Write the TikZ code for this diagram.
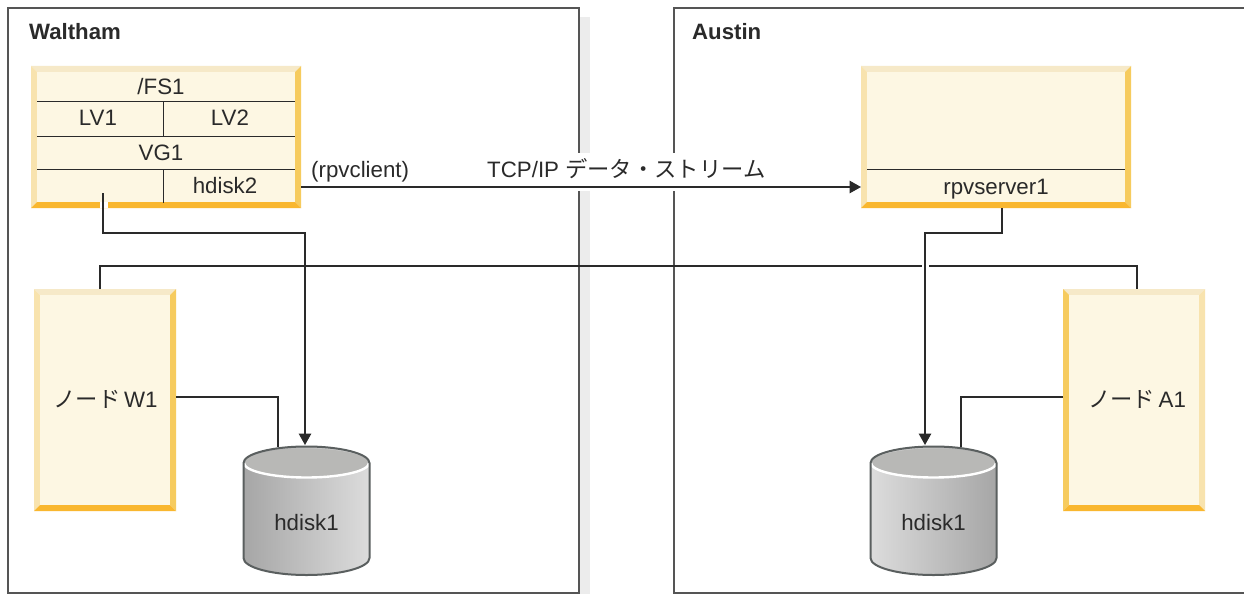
\documentclass[tikz,border=0pt]{standalone}
\usepackage{fontspec}
\setmainfont{Liberation Sans}
\newfontfamily\jpfont{Noto Sans CJK JP}[Scale=1.0]
\usetikzlibrary{arrows.meta}
\definecolor{inner}{HTML}{FDF7E3}
\definecolor{bevT}{HTML}{F6E9C8}
\definecolor{bevL}{HTML}{F8E3AE}
\definecolor{bevR}{HTML}{F6CB5E}
\definecolor{bevB}{HTML}{F9B72F}
\definecolor{ink}{HTML}{2A2A2A}
\definecolor{frameink}{HTML}{555555}
\definecolor{shadowgrey}{HTML}{ECECEC}
\definecolor{diskedge}{HTML}{5A5F5F}
\definecolor{disktop}{HTML}{B8B8B6}
\definecolor{diskdark}{HTML}{A6A6A6}
\definecolor{disklight}{HTML}{DCDCDC}
\tikzset{
  x=1pt,y=-1pt,
  txt/.style={font=\fontsize{22.3}{25}\selectfont,text=ink,inner sep=0pt,anchor=base},
  head/.style={font=\fontsize{22.2}{25}\selectfont\bfseries,text=ink,inner sep=0pt,anchor=base west},
  frm/.style={draw=frameink,line width=1.2pt},
  wire/.style={draw=ink,line width=1.5pt},
  thin wire/.style={draw=ink,line width=1pt},
  arrowed/.style={wire,-{Triangle[length=11.5pt,width=12.5pt]}},
  halo/.style={draw=white,line width=7pt},
}
% \bevelbox{name}{x1}{y1}{x2}{y2}{left colour}{right colour}
\newcommand{\bevelbox}[7]{
  \fill[bevT] (#2,#3) -- (#4,#3) -- (#4-6,#3+6) -- (#2+6,#3+6) -- cycle;
  \fill[#6] (#2,#3) -- (#2+6,#3+6) -- (#2+6,#5-6) -- (#2,#5) -- cycle;
  \fill[#7] (#4,#3) -- (#4-6,#3+6) -- (#4-6,#5-6) -- (#4,#5) -- cycle;
  \fill[bevB] (#2,#5) -- (#2+6,#5-6) -- (#4-6,#5-6) -- (#4,#5) -- cycle;
  \fill[inner] (#2+6,#3+6) rectangle (#4-6,#5-6);
  \coordinate (#1) at ({(#2+#4)/2},{(#3+#5)/2});
}
% \disk{name}{cx}{left colour}{right colour}
\newcommand{\disk}[4]{
  \path[left color=#3,right color=#4]
    (#2-63,463) -- (#2-63,558) arc[start angle=180,end angle=0,x radius=63,y radius=17]
    -- (#2+63,463) arc[start angle=0,end angle=-180,x radius=63,y radius=16.5] -- cycle;
  \fill[disktop] (#2,463) ellipse[x radius=62.5,y radius=14.5];
  \draw[white,line width=2.4pt] (#2-62.5,463) arc[start angle=180,end angle=0,x radius=62.5,y radius=14.5];
  \draw[diskedge,line width=2pt]
    (#2-63,463) -- (#2-63,558) arc[start angle=180,end angle=0,x radius=63,y radius=17]
    -- (#2+63,463) arc[start angle=0,end angle=-180,x radius=63,y radius=16.5] -- cycle;
  \node[txt] (#1) at (#2,530.5) {hdisk1};
}
\begin{document}
\begin{tikzpicture}
\useasboundingbox (0,0) rectangle (1244,594);
\fill[white] (0,0) rectangle (1244,594);
% frames
\fill[shadowgrey] (580,17) rectangle (590,594);
\draw[frm] (8,8) rectangle (579,593);
\draw[frm] (1244,8) -- (674,8) -- (674,593) -- (1244,593);
\node[head] (walt) at (29,39.5) {Waltham};
\node[head] (aust) at (692,39.5) {Austin};

% node boxes
\bevelbox{fs}{31}{66}{301}{208}{bevL}{bevR}
\bevelbox{srv}{861}{66}{1131}{208}{bevL}{bevR}
\bevelbox{w1}{34}{289}{176}{511}{bevL}{bevR}
\bevelbox{a1}{1063}{289}{1205}{511}{bevR}{bevL}

% inner rules of the two system boxes
\draw[thin wire] (37,101) -- (295,101) (37,136) -- (295,136) (37,169) -- (295,169)
  (163,101) -- (163,136) (163,169) -- (163,203);
\draw[thin wire] (867,169) -- (1125,169);
\node[txt] (fs1) at (161,94) {/FS1};
\node[txt] (lv1) at (98,125) {LV1};
\node[txt] (lv2) at (230,125) {LV2};
\node[txt] (vg1) at (161,160) {VG1};
\node[txt] (hd2) at (225,193.5) {hdisk2};
\node[txt] (rpvs) at (996,194) {rpvserver1};
\node[txt] (nw1) at (105.5,407) {{\jpfont ノード}\,W1};
\node[txt] (na1) at (1137,407) {{\jpfont ノード}\,A1};

% disks
\disk{dw}{306.5}{diskdark}{disklight}
\disk{da}{933.5}{disklight}{diskdark}

% long top line
\coordinate (lineL) at (100,266);
\coordinate (lineR) at (1137,266);
\draw[wire] (100,289) -- (lineL) -- (lineR) -- (1137,289);
\draw[halo] (925,260) -- (925,272);

% disk links
\draw[wire] (176,397) -- (278,397) -- (278,447);
\draw[wire] (1063,397) -- (961,397) -- (961,447);

% FS to disk
\fill[white] (100,202) rectangle (108,208);
\coordinate (fsout) at (103,193);
\draw[arrowed] (fsout) -- (103,233) -- (305,233) -- (305,445);
\draw[arrowed] (1002,208) -- (1002,233) -- (925,233) -- (925,445);

% data stream
\fill[white] (560,153) rectangle (700,183);
\fill[white] (570,183) rectangle (690,191);
\draw[arrowed] (301,187) -- (861,187);
\node[txt,anchor=base west] (client) at (311,177) {(rpvclient)};
\node[txt,anchor=base west] (tcp) at (487,177) {TCP/IP {\jpfont データ・ストリーム}};
\end{tikzpicture}
\end{document}
